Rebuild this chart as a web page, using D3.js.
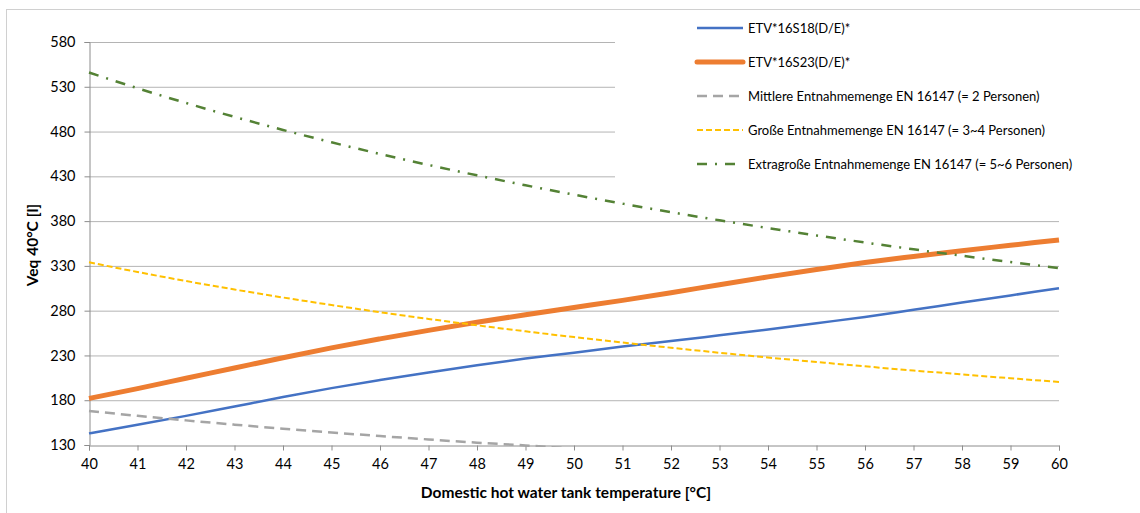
<!DOCTYPE html>
<meta charset="utf-8">
<script src="https://d3js.org/d3.v7.min.js"></script>
<style>
  body { margin: 0; background: #fff; }
  text { font-family: Lato, "Open Sans", sans-serif; fill: #000; }
</style>
<div id="my_dataviz"></div>
<script>

// temperatures on the x axis
var temps = d3.range(40, 61);

// series values, one per degree 40..60
var etv18 = [143, 152.5, 162.5, 173, 183.5, 193.5, 202.5, 211, 219, 226.5, 233, 240, 246, 252.5, 259, 266, 273, 281, 289, 297, 305];
var etv23 = [182, 193, 204.5, 216, 227.5, 238.5, 248.5, 258, 267, 275.5, 283.5, 291.5, 300, 309, 317.7, 326, 333.7, 340.5, 347, 353, 359];
var mittlere = [168, 162.6, 157.5, 152.7, 148.2, 144, 140, 136.2, 132.6, 129.5, 126, 122.9, 120, 117.2, 114.5, 112, 109.6, 107.2, 105, 102.9, 100.8];
var grosse = [334, 323.2, 313.1, 303.6, 294.7, 286.3, 278.3, 270.8, 263.7, 256.9, 250.5, 244.4, 238.6, 233, 227.7, 222.7, 217.8, 213.2, 208.8, 204.5, 200.4];
var extra = [546, 528.4, 511.9, 496.4, 481.8, 468, 455, 442.7, 431.1, 420, 409.5, 399.5, 390, 380.9, 372.3, 364, 356.1, 348.5, 341.3, 334.3, 327.6];

var yTicks = [130, 180, 230, 280, 330, 380, 430, 480, 530, 580];

var series = [
  {name: "ETV*16S18(D/E)*", values: etv18, color: "#4472C4", width: 2.5, dash: null},
  {name: "ETV*16S23(D/E)*", values: etv23, color: "#ED7D31", width: 5, dash: null},
  {name: "Mittlere Entnahmemenge EN 16147 (= 2 Personen)", values: mittlere, color: "#A5A5A5", width: 2.5, dash: "10,6"},
  {name: "Große Entnahmemenge EN 16147 (= 3~4 Personen)", values: grosse, color: "#FFC000", width: 2, dash: "6,3"},
  {name: "Extragroße Entnahmemenge EN 16147 (= 5~6 Personen)", values: extra, color: "#548235", width: 2.5, dash: "10,8,2,8"}
];

var W = 1140, H = 513;
var margin = {top: 42, left: 89},
    width = 1059 - 89,
    height = 445 - 42;

var svg = d3.select("#my_dataviz")
  .append("svg")
    .attr("width", W)
    .attr("height", H);

// chart border
svg.append("rect")
  .attr("x", 6.5).attr("y", 9.5)
  .attr("width", 1300).attr("height", 700)
  .attr("fill", "none")
  .attr("stroke", "#d0d0d0");

var g = svg.append("g")
  .attr("transform", "translate(" + margin.left + "," + margin.top + ")");

var x = d3.scaleLinear().domain([40, 60]).range([0, width]);
var y = d3.scaleLinear().domain([130, 580]).range([height, 0]);

// gridlines
g.append("g")
  .selectAll("line")
  .data(yTicks.slice(1))
  .enter().append("line")
    .attr("x1", 0).attr("x2", width)
    .attr("y1", function(d) { return y(d) + 0.5; })
    .attr("y2", function(d) { return y(d) + 0.5; })
    .attr("stroke", "#b4b4b4")
    .attr("stroke-width", 1);

// x axis
var xAxis = g.append("g")
  .attr("transform", "translate(0," + (height + 0.5) + ")")
  .call(d3.axisBottom(x).tickValues(temps).tickFormat(d3.format("d")).tickSizeOuter(0).tickSize(5).tickPadding(8));

// y axis
var yAxis = g.append("g")
  .attr("transform", "translate(0.5,0)")
  .call(d3.axisLeft(y).tickValues(yTicks).tickSizeOuter(0).tickSize(5).tickPadding(9));

[xAxis, yAxis].forEach(function(a) {
  a.select(".domain").attr("stroke", "#8c8c8c");
  a.selectAll(".tick line").attr("stroke", "#8c8c8c");
  a.selectAll(".tick text").style("font-size", "14.5px").attr("fill", "#000");
});

// clip region for the series
g.append("clipPath").attr("id", "plotclip")
  .append("rect")
    .attr("x", -3).attr("y", -8)
    .attr("width", width + 6).attr("height", height + 10);

var line = d3.line()
  .x(function(d, i) { return x(temps[i]); })
  .y(function(d) { return y(d); })
  .curve(d3.curveMonotoneX);

g.append("g")
  .attr("clip-path", "url(#plotclip)")
  .selectAll("path")
  .data(series)
  .enter().append("path")
    .attr("d", function(d) { return line(d.values); })
    .attr("fill", "none")
    .attr("stroke", function(d) { return d.color; })
    .attr("stroke-width", function(d) { return d.width; })
    .attr("stroke-dasharray", function(d) { return d.dash; });

// legend
var legend = svg.append("g");
legend.append("rect")
  .attr("x", 615).attr("y", 12)
  .attr("width", 470).attr("height", 178)
  .attr("fill", "#fff");

var lg = legend.selectAll(".item")
  .data(series)
  .enter().append("g")
    .attr("transform", function(d, i) { return "translate(697," + (28 + i * 34) + ")"; });

lg.append("line")
  .attr("x1", 0).attr("x2", 46)
  .attr("stroke", function(d) { return d.color; })
  .attr("stroke-width", function(d) { return d.width; })
  .attr("stroke-dasharray", function(d) { return d.dash; })
  .attr("stroke-linecap", function(d, i) { return i == 1 ? "round" : "butt"; });

lg.append("text")
  .attr("x", 51).attr("y", 5)
  .style("font-size", "13px")
  .text(function(d) { return d.name; });

// axis titles
svg.append("text")
  .attr("x", 566).attr("y", 498)
  .attr("text-anchor", "middle")
  .style("font-size", "15.5px").style("font-weight", "bold")
  .text("Domestic hot water tank temperature [°C]");

svg.append("text")
  .attr("transform", "translate(38,245) rotate(-90)")
  .attr("text-anchor", "middle")
  .style("font-size", "15.5px").style("font-weight", "bold")
  .text("Veq 40°C [l]");

</script>
